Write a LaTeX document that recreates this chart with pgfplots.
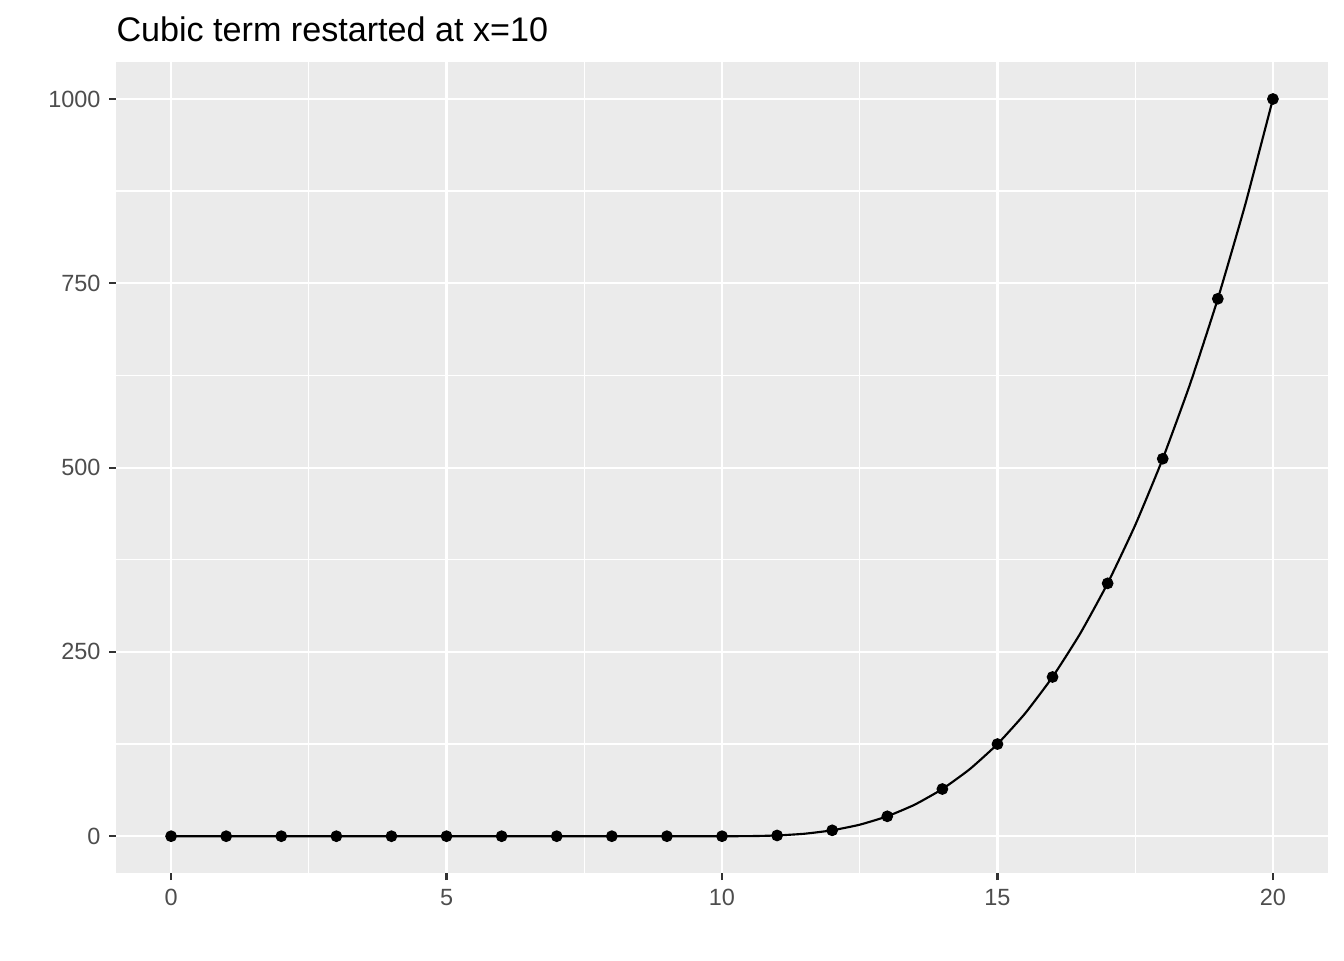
\documentclass[border=0pt]{standalone}
\usepackage{fontspec}
\setmainfont{Liberation Sans}
\usepackage{pgfplots}
\pgfplotsset{compat=1.18}
\definecolor{panelbg}{HTML}{EBEBEB}
\definecolor{tickcol}{HTML}{333333}
\definecolor{labcol}{HTML}{4D4D4D}
\begin{document}
\begin{tikzpicture}
\useasboundingbox (-43.5pt,-32.6pt) rectangle (460.5pt,327.4pt);
\begin{axis}[
  at={(0,0)}, anchor=south west,
  scale only axis, width=454.5pt, height=304.1pt,
  xmin=-1, xmax=21, ymin=-50, ymax=1050,
  axis background/.style={fill=panelbg},
  axis line style={draw=none},
  xtick={0,5,10,15,20}, ytick={0,250,500,750,1000},
  minor xtick={2.5,7.5,12.5,17.5}, minor ytick={125,375,625,875},
  grid=both,
  major grid style={white, line width=0.8pt},
  minor grid style={white, line width=0.5pt},
  tick align=outside, major tick length=2.6pt, minor tick length=0pt,
  tick style={tickcol, line width=0.8pt},
  xtick pos=bottom, ytick pos=left,
  /pgf/number format/assume math mode=true,
  scaled y ticks=false,
  yticklabel={\pgfmathprintnumber[fixed,precision=0,1000 sep={}]{\tick}},
  ticklabel style={font=\fontsize{8.8pt}{10pt}\selectfont, text=labcol, inner sep=0pt},
  yticklabel style={anchor=east, xshift=-3pt},
  xticklabel style={anchor=north, yshift=-3.4pt},
  clip=false,
]
\addplot[black, line width=0.8pt, smooth, tension=0.3] coordinates {
 (0,0) (1,0) (2,0) (3,0) (4,0) (5,0) (6,0) (7,0) (8,0) (9,0) (10,0)
 (10.5,0.125) (11,1) (11.5,3.375) (12,8) (12.5,15.625) (13,27) (13.5,42.875)
 (14,64) (14.5,91.125) (15,125) (15.5,166.375) (16,216) (16.5,274.625)
 (17,343) (17.5,421.875) (18,512) (18.5,614.125) (19,729) (19.5,857.375) (20,1000)
};
\addplot[only marks, mark=*, mark size=2pt, black] coordinates {
 (0,0) (1,0) (2,0) (3,0) (4,0) (5,0) (6,0) (7,0) (8,0) (9,0) (10,0)
 (11,1) (12,8) (13,27) (14,64) (15,125) (16,216) (17,343) (18,512) (19,729) (20,1000)
};
\node[anchor=base west, inner sep=0pt, font=\fontsize{12.8pt}{16pt}\selectfont]
  at (rel axis cs:0,1) [yshift=7.6pt] {Cubic term restarted at x=10};
\end{axis}
\end{tikzpicture}
\end{document}
